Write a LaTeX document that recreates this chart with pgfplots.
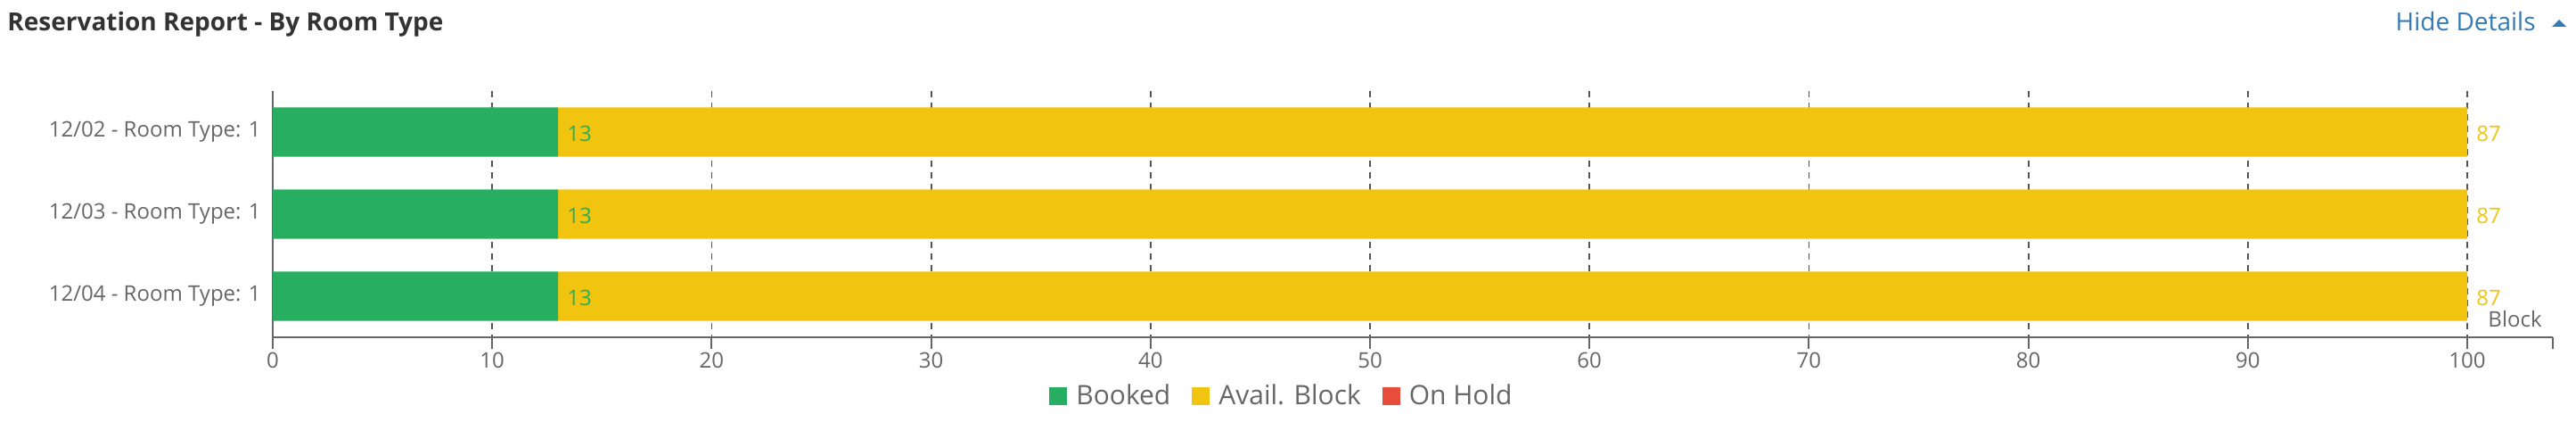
\documentclass[border=0pt]{standalone}
\usepackage{fontspec}
\setmainfont{Open Sans}
\usepackage{pgfplots}
\pgfplotsset{compat=1.18}
\definecolor{booked}{HTML}{27AE60}
\definecolor{avail}{HTML}{F1C40F}
\definecolor{onhold}{HTML}{E74C3C}
\definecolor{txt}{HTML}{666666}
\definecolor{ttl}{HTML}{333333}
\definecolor{lnk}{HTML}{337AB7}
\definecolor{axgrey}{HTML}{666666}
\definecolor{gridc}{HTML}{555555}
\pgfplotsset{frame/.style={at={(153pt,57pt)}, anchor=south west,
  scale only axis, width=1279pt, height=138pt,
  xmin=0, xmax=103.9, ymin=-0.5, ymax=2.5, y dir=reverse}}

\begin{document}
\begin{tikzpicture}
\useasboundingbox (0pt,0pt) rectangle (1445pt,246pt);
\begin{axis}[frame,
  xbar stacked, bar width=0.6,
  axis x line*=bottom, axis y line*=left,
  axis line style={draw=axgrey, line width=1pt, -},
  xtick={0,10,...,100},
  xticklabels={0,10,20,30,40,50,60,70,80,90,100},
  tick align=outside, major tick length=6.5pt,
  x tick style={draw=axgrey, line width=1pt},
  xticklabel style={font=\fontsize{12}{14}\selectfont, text=txt, anchor=north, inner sep=0pt, yshift=-2pt},
  extra x ticks={103.9}, extra x tick labels={}, extra x tick style={grid=none},
  xmajorgrids, grid style={draw=gridc, line width=0.9pt, dash pattern=on 3.5pt off 3pt},
  ytick={0,1,2},
  yticklabels={12/02 - Room Type: 1,12/03 - Room Type: 1,12/04 - Room Type: 1},
  y tick style={draw=none},
  yticklabel style={font=\fontsize{12}{14}\selectfont, text=txt, anchor=east, inner sep=0pt},
  legend columns=-1,
  legend style={at={(0.4429,-0.239)}, anchor=center, draw=none, fill=none,
    font=\fontsize{15}{18}\selectfont, text=txt,
    /tikz/every even column/.append style={column sep=10pt}},
  legend image code/.code={\fill[#1] (0pt,-5pt) rectangle (10pt,5pt); \path (13pt,0pt);},
]
\addplot+[fill=booked, draw=none]
  coordinates {(13,0) (13,1) (13,2)};
\addlegendentry{Booked}
\addplot+[fill=avail, draw=none]
  coordinates {(87,0) (87,1) (87,2)};
\addlegendentry{Avail. Block}
\addplot+[fill=onhold, draw=none]
  coordinates {(0,0) (0,1) (0,2)};
\addlegendentry{On Hold}
\pgfplotsinvokeforeach{-0.5,0.5,1.5,2.5}{
  \draw[axgrey, line width=1pt] (axis cs:0,#1) -- ++(-6pt,0);
}
\end{axis}
% data labels at the end of each stacked segment
\begin{axis}[frame, hide axis, clip=false,
  every node near coord/.style={anchor=west, inner sep=0pt, xshift=5pt, yshift=-1pt,
    font=\fontsize{12}{14}\selectfont},
  point meta=explicit symbolic]
\addplot[draw=none, mark=none, nodes near coords,
  every node near coord/.append style={text=booked}]
  coordinates {(13,0) [13] (13,1) [13] (13,2) [13]};
\addplot[draw=none, mark=none, nodes near coords,
  every node near coord/.append style={text=avail}]
  coordinates {(100,0) [87] (100,1) [87] (100,2) [87]};
\end{axis}
\node[anchor=base west, inner sep=0pt, text=ttl, font=\fontsize{14}{17}\selectfont\bfseries]
  at (4pt,228.5pt) {Reservation Report - By Room Type};
\node[anchor=base east, inner sep=0pt, text=lnk, font=\fontsize{14}{17}\selectfont]
  at (1422.5pt,228.5pt) {Hide Details};
\fill[lnk] (1431.5pt,231pt) -- (1439.5pt,231pt) -- (1435.5pt,235pt) -- cycle;
\node[anchor=base east, inner sep=0pt, text=txt, font=\fontsize{12}{14}\selectfont]
  at (1426pt,62.5pt) {Block};
\end{tikzpicture}
\end{document}
